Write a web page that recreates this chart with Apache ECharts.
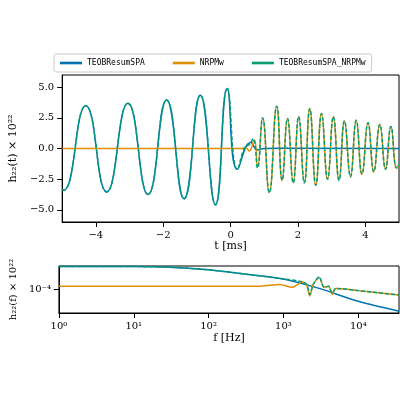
<!DOCTYPE html>
<html><head><meta charset="utf-8">
<script src="https://cdn.jsdelivr.net/npm/echarts@6/dist/echarts.min.js"></script>
<style>html,body{margin:0;background:#fff}#c{width:400px;height:400px}</style>
</head><body><div id="c"></div>
<script>
// time domain, [t ms, h x 1e22]
var teobT = [[-5,-3.35],[-4.95,-3.4],[-4.3,3.5],[-3.68,-3.55],[-3.05,3.7],[-2.45,-3.75],[-1.9,3.95],[-1.38,-4.1],[-0.9,4.35],[-0.45,-4.6],[-0.1,4.9],[0.2,-1.7],[0.6,0.5],[0.8,-0.1],[1.0,0],[1.5,0.02],[5,0]];
var nrpmT = [[-5,0],[0.3,0],[0.45,0.05],[0.55,-0.2],[0.7,0.7],[0.8,-1.5],[0.95,2.5],[1.15,-3.6],[1.37,3.45],[1.53,-2.6],[1.69,2.45],[1.86,-2.8],[2.02,2.6],[2.19,-2.8],[2.35,3.25],[2.53,-3.0],[2.70,2.85],[2.88,-2.5],[3.05,2.6],[3.22,-2.6],[3.38,2.25],[3.56,-2.3],[3.73,2.3],[3.9,-2.1],[4.08,2.1],[4.25,-1.9],[4.43,1.95],[4.6,-1.7],[4.76,1.8],[4.93,-1.6],[5,-1.3]];
var sumT = teobT.slice(0, 12).concat([[0.42,0.1],[0.55,0.3],[0.67,0.8],[0.8,-1.6]]).concat(nrpmT.slice(6));
// frequency domain, [f Hz, |h|]
var teobF = [[1,2.8e-4],[10,2.78e-4],[30,2.7e-4],[60,2.55e-4],[100,2.4e-4],[300,2e-4],[1000,1.6e-4],[3000,1.05e-4],[10000,5.9e-5],[35000,3.8e-5]];
var nrpmF = [[1,1.15e-4],[100,1.15e-4],[500,1.16e-4],[900,1.25e-4],[1300,1.1e-4],[1800,1.4e-4],[2050,1.2e-4],[2250,7.5e-5],[2500,1.25e-4],[3000,1.7e-4],[3500,1.1e-4],[4000,1.15e-4],[4500,8e-5],[5000,1.05e-4],[10000,9.5e-5],[35000,7.8e-5]];
var sumF = [[1,2.8e-4],[10,2.78e-4],[30,2.7e-4],[60,2.55e-4],[100,2.4e-4],[300,2e-4],[1000,1.6e-4],[1800,1.4e-4],[2050,1.25e-4],[2250,8e-5],[2500,1.25e-4],[3000,1.75e-4],[3500,1.1e-4],[4000,1.15e-4],[4500,8.5e-5],[5000,1.05e-4],[10000,9.5e-5],[35000,7.8e-5]];
var fTicks = [1, 10, 100, 1000, 10000];

var blue = '#0173b2', orange = '#de8f05', green = '#029e73';
var serif = 'DejaVu Serif';
var txt = {color: '#000', fontFamily: serif, fontSize: 11};
var ax = {onZero: false, lineStyle: {color: '#000'}};
var chart = echarts.init(document.getElementById('c'));
function sup(n) { return String(n).split('').map(function (ch) { return '⁰¹²³⁴⁵⁶⁷⁸⁹'['0123456789'.indexOf(ch)] || (ch == '-' ? '⁻' : ch); }).join(''); }
function pow10(v) { return '10' + sup(Math.round(Math.log10(v))); }
var line = 'path://M0,0L10,0L10,1.2L0,1.2Z';
chart.setOption({
  animation: false,
  legend: {
    top: 54, left: 54, itemWidth: 22, itemHeight: 3, itemGap: 28,
    borderColor: '#ccc', borderWidth: 1, borderRadius: 2, padding: [5, 6],
    textStyle: {fontFamily: 'DejaVu Sans Mono', fontSize: 8, color: '#000'},
    data: [{name: 'TEOBResumSPA', icon: line}, {name: 'NRPMw', icon: line}, {name: 'TEOBResumSPA_NRPMw', icon: line}]
  },
  grid: [
    {left: 50, right: 1, top: 75, height: 147, show: true, borderColor: '#000', borderWidth: 1},
    {left: 50, right: 1, top: 266, height: 47, show: true, borderColor: '#000', borderWidth: 1}
  ],
  xAxis: [
    {gridIndex: 0, type: 'value', min: -5, max: 5, name: 't [ms]', nameLocation: 'middle', nameGap: 18,
     nameTextStyle: txt, axisLine: ax, splitLine: {show: false},
     axisTick: {customValues: [-4, -2, 0, 2, 4], lineStyle: {color: '#000'}},
     axisLabel: {customValues: [-4, -2, 0, 2, 4], color: '#000', fontFamily: serif, fontSize: 10, formatter: function (v) { return String(v).replace('-', '−'); }}},
    {gridIndex: 1, type: 'log', logBase: 10, min: 1, max: 35000, name: 'f [Hz]', nameLocation: 'middle', nameGap: 20,
     nameTextStyle: txt, axisLine: ax, splitLine: {show: false},
     axisTick: {customValues: fTicks, lineStyle: {color: '#000'}},
     axisLabel: {customValues: fTicks, color: '#000', fontFamily: serif, fontSize: 10, formatter: pow10}}
  ],
  yAxis: [
    {gridIndex: 0, type: 'value', min: -6, max: 6, name: 'h₂₂(t) × 10²²', nameLocation: 'middle', nameGap: 33,
     nameTextStyle: txt, axisLine: {show: true, onZero: false, lineStyle: {color: '#000'}}, splitLine: {show: false},
     axisTick: {show: true, customValues: [-5, -2.5, 0, 2.5, 5], lineStyle: {color: '#000'}},
     axisLabel: {customValues: [-5, -2.5, 0, 2.5, 5], color: '#000', fontFamily: serif, fontSize: 10, formatter: function (v) { return v.toFixed(1).replace('-', '−'); }}},
    {gridIndex: 1, type: 'log', logBase: 10, min: 3.5e-5, max: 2.85e-4, name: 'h₂₂(f) × 10²²', nameLocation: 'middle', nameGap: 33,
     nameTextStyle: {color: '#000', fontFamily: serif, fontSize: 10}, axisLine: {show: true, onZero: false, lineStyle: {color: '#000'}}, splitLine: {show: false},
     axisTick: {show: true, customValues: [1e-4], lineStyle: {color: '#000'}},
     axisLabel: {customValues: [1e-4], color: '#000', fontFamily: serif, fontSize: 10, formatter: pow10}}
  ],
  series: [
    {name: 'TEOBResumSPA', type: 'line', xAxisIndex: 0, yAxisIndex: 0, data: teobT, smooth: 0.5, showSymbol: false, lineStyle: {width: 1.5, color: blue}, itemStyle: {color: blue}},
    {name: 'NRPMw', type: 'line', xAxisIndex: 0, yAxisIndex: 0, data: nrpmT, smooth: 0.5, showSymbol: false, lineStyle: {width: 1.5, color: orange}, itemStyle: {color: orange}},
    {name: 'TEOBResumSPA_NRPMw', type: 'line', xAxisIndex: 0, yAxisIndex: 0, data: sumT, smooth: 0.5, showSymbol: false, lineStyle: {width: 1.5, color: green, type: [4, 2]}, itemStyle: {color: green}},
    {name: 'TEOBResumSPA', type: 'line', xAxisIndex: 1, yAxisIndex: 1, data: teobF, smooth: 0.3, showSymbol: false, lineStyle: {width: 1.5, color: blue}},
    {name: 'NRPMw', type: 'line', xAxisIndex: 1, yAxisIndex: 1, data: nrpmF, smooth: 0.3, showSymbol: false, lineStyle: {width: 1.5, color: orange}},
    {name: 'TEOBResumSPA_NRPMw', type: 'line', xAxisIndex: 1, yAxisIndex: 1, data: sumF, smooth: 0.3, showSymbol: false, lineStyle: {width: 1.5, color: green, type: [4, 2]}}
  ]
});
</script></body></html>
